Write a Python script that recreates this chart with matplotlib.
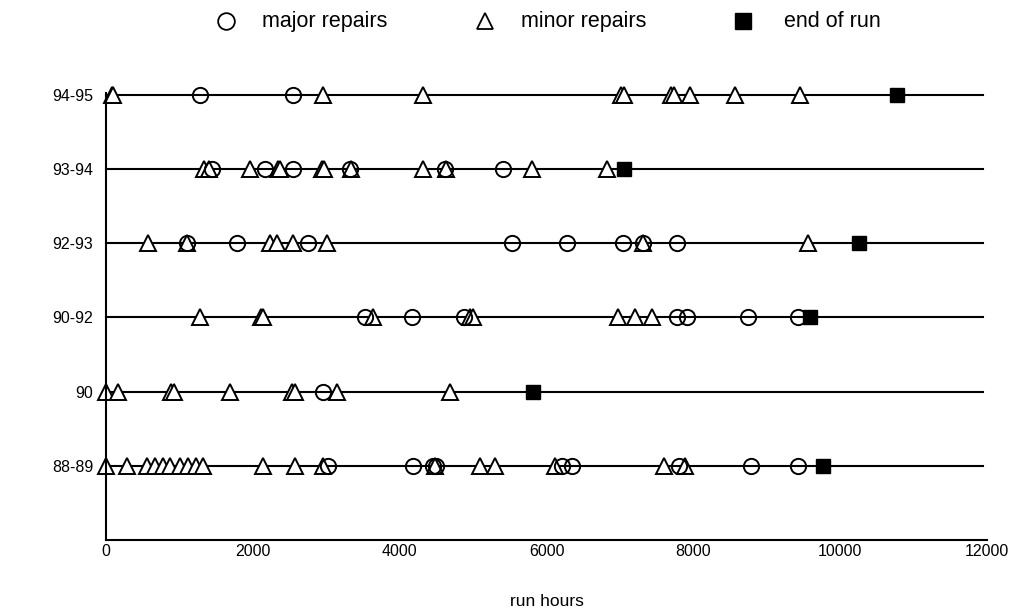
import matplotlib.pyplot as plt

plt.rcParams['font.family'] = ['Liberation Sans', 'DejaVu Sans']

periods = ['88-89', '90', '90-92', '92-93', '93-94', '94-95']

# run hours of each event, per period
major = {
    '88-89': [3030, 4180, 4450, 4500, 6210, 6350, 7800, 8780, 9430],
    '90': [2950],
    '90-92': [3530, 4170, 4870, 7780, 7910, 8750, 9430],
    '92-93': [1100, 1780, 2750, 5530, 6280, 7040, 7310, 7780],
    '93-94': [1450, 2170, 2550, 3330, 4620, 5410],
    '94-95': [1280, 2550],
}
minor = {
    '88-89': [0, 280, 560, 670, 770, 870, 1010, 1120, 1230, 1320,
              2140, 2570, 2960, 4480, 5090, 5300, 6110, 7600, 7880],
    '90': [0, 160, 880, 920, 1690, 2540, 2570, 3150, 4690],
    '90-92': [1280, 2110, 2140, 3640, 4960, 5000, 6970, 7200, 7440],
    '92-93': [570, 1110, 2230, 2330, 2550, 3010, 7320, 9560],
    '93-94': [1330, 1400, 1960, 2340, 2370, 2940, 2970, 3340, 4320, 4630, 5800, 6820],
    '94-95': [80, 100, 2960, 4320, 7020, 7050, 7700, 7730, 7950, 8570, 9450],
}
end_of_run = {
    '88-89': 9760,
    '90': 5820,
    '90-92': 9590,
    '92-93': 10250,
    '93-94': 7060,
    '94-95': 10780,
}

fig = plt.figure(figsize=(10.18, 6.13), dpi=100)
ax = fig.add_axes([0.1041, 0.119, 0.8655, 0.729])

for i, p in enumerate(periods):
    y = i + 1
    ax.plot([0, 11950], [y, y], color='black', lw=1.5, zorder=1, clip_on=False)
    ax.plot(minor[p], [y] * len(minor[p]), linestyle='none', marker='^',
            markersize=11, markerfacecolor='white', markeredgecolor='black',
            markeredgewidth=1.4, zorder=2, clip_on=False)
    ax.plot(major[p], [y] * len(major[p]), linestyle='none', marker='o',
            markersize=11, markerfacecolor='none', markeredgecolor='black',
            markeredgewidth=1.4, zorder=3, clip_on=False)
    ax.plot([end_of_run[p]], [y], linestyle='none', marker='s',
            markersize=10, color='black', zorder=4, clip_on=False)

ax.set_xlim(0, 12000)
ax.set_ylim(0, 6.02)
ax.set_xticks(range(0, 12001, 2000))
ax.set_yticks(range(1, 7))
ax.set_yticklabels(periods)
ax.tick_params(axis='both', labelsize=11.5, length=0)
ax.tick_params(axis='y', pad=9)
ax.tick_params(axis='x', pad=3)
for s in ['top', 'right']:
    ax.spines[s].set_visible(False)
ax.spines['left'].set_linewidth(1.5)
ax.spines['bottom'].set_linewidth(1.5)
ax.set_xlabel('run hours', fontsize=12.5, labelpad=25)

# legend across the top
leg_y = 0.965
fig.add_artist(plt.Line2D([226 / 1018], [leg_y], marker='o', markersize=12,
                          markerfacecolor='none', markeredgecolor='black',
                          markeredgewidth=1.3, transform=fig.transFigure))
fig.text(262 / 1018, leg_y, 'major repairs', fontsize=15.5, va='center')
fig.add_artist(plt.Line2D([485 / 1018], [leg_y], marker='^', markersize=12,
                          markerfacecolor='none', markeredgecolor='black',
                          markeredgewidth=1.3, transform=fig.transFigure))
fig.text(521 / 1018, leg_y, 'minor repairs', fontsize=15.5, va='center')
fig.add_artist(plt.Line2D([743 / 1018], [leg_y], marker='s', markersize=12,
                          color='black', transform=fig.transFigure))
fig.text(784 / 1018, leg_y, 'end of run', fontsize=15.5, va='center')

fig.savefig('out.png', dpi=100)
